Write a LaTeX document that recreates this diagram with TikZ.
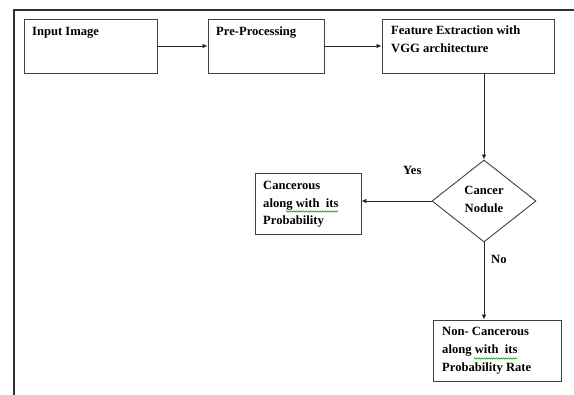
\documentclass[tikz,border=0pt]{standalone}
\usepackage{fontspec}
\setmainfont{Liberation Serif}
\usetikzlibrary{shapes.geometric,arrows.meta,decorations.pathmorphing}
\begin{document}
\begin{tikzpicture}[x=1pt,y=-1pt,
  box/.style={draw=black!75, line width=0.9pt, inner sep=0pt, minimum height=54pt},
  txt/.style={font=\fontsize{12.6}{18}\selectfont\bfseries, inner sep=0pt, anchor=base west},
  ctxt/.style={font=\fontsize{12.6}{18}\selectfont\bfseries, inner sep=0pt, anchor=base},
  arr/.style={-{Latex[length=5pt,width=4.5pt]}, line width=0.8pt, draw=black!85},
  squig/.style={draw=green!55!black, line width=0.5pt, decorate, decoration={snake, amplitude=0.7pt, segment length=2.4pt}}
]
\useasboundingbox (0,0) rectangle (574,395);
% frame
\draw[line width=1.2pt, draw=black!80] (14,395) -- (14,10) -- (574,10);

% boxes
\node[box, minimum width=133pt] (inp) at (90.5,46) {};
\node[box, minimum width=116pt] (pre) at (266,46) {};
\node[box, minimum width=172pt] (feat) at (468,46) {};
\node[draw=black!75, line width=0.9pt, diamond, inner sep=0pt, minimum width=104pt, minimum height=82pt] (dia) at (484,201) {};
\node[box, minimum width=106pt, minimum height=61pt] (canc) at (308,203.5) {};
\node[box, minimum width=128pt, minimum height=61pt] (non) at (497,350.5) {};

% texts
\node[txt] (tinp) at (32,36) {Input Image};
\node[txt] (tpre) at (216,36) {Pre-Processing};
\node[txt] (tfeat1) at (391,35) {Feature Extraction with};
\node[txt] (tfeat2) at (391,53) {VGG architecture};
\node[ctxt] (tdia1) at (484,195) {Cancer};
\node[ctxt] (tdia2) at (484,213) {Nodule};
\node[txt] (tc1) at (263,190) {Cancerous};
\node[txt] (tc2) at (263,207.5) {along with\ \ its};
\node[txt] (tc3) at (263,225) {Probability};
\node[txt] (tn1) at (442,336) {Non- Cancerous};
\node[txt] (tn2) at (442,354) {along with\ \ its};
\node[txt] (tn3) at (442,372) {Probability Rate};
\node[txt] (tyes) at (403,175) {Yes};
\node[txt] (tno) at (491,264) {No};

% squiggly underlines
\coordinate (sq1a) at (286,211.5);
\coordinate (sq1b) at (338,211.5);
\coordinate (sq2a) at (474,358.5);
\coordinate (sq2b) at (517,358.5);
\draw[squig] (sq1a) -- (sq1b);
\draw[squig] (sq2a) -- (sq2b);

% connectors
\draw[arr] (inp.east) -- (pre.west);
\draw[arr] (pre.east) -- (feat.west);
\draw[arr] (feat.south -| dia.north) -- (dia.north);
\draw[arr] (dia.west) -- (dia.west -| canc.east);
\draw[arr] (dia.south) -- (dia.south |- non.north);
\end{tikzpicture}
\end{document}
